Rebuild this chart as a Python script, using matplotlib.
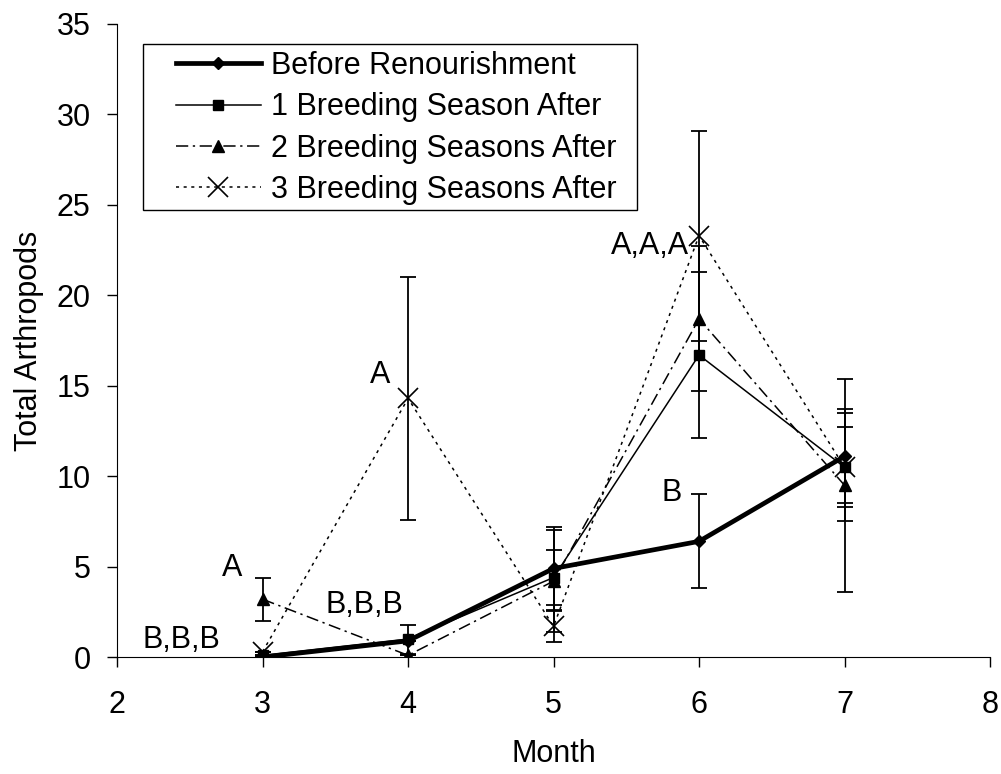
import matplotlib
matplotlib.use("Agg")
import matplotlib.pyplot as plt
from matplotlib.patches import Rectangle

plt.rcParams['font.family'] = ['Liberation Sans', 'DejaVu Sans']

months = [3, 4, 5, 6, 7]

before = [0.0, 0.9, 4.9, 6.4, 11.1]
before_err = [0.0, 0.0, 2.3, 2.6, 2.6]

one_after = [0.1, 1.0, 4.4, 16.7, 10.5]
one_err = [0.0, 0.8, 1.5, 4.6, 3.0]

two_after = [3.2, 0.1, 4.2, 18.7, 9.5]
two_err = [1.2, 0.0, 2.8, 4.0, 5.9]

three_after = [0.3, 14.3, 1.7, 23.3, 10.5]
three_err = [0.0, 6.7, 0.85, 5.8, 2.2]

labels = ["Before Renourishment", "1 Breeding Season After",
          "2 Breeding Seasons After", "3 Breeding Seasons After"]

annotations = [
    (2.44, 0.95, "B,B,B"),
    (2.79, 4.9, "A"),
    (3.70, 2.9, "B,B,B"),
    (3.81, 15.6, "A"),
    (5.66, 22.7, "A,A,A"),
    (5.81, 9.1, "B"),
]

fs = 22

fig = plt.figure(figsize=(10.01, 7.74), dpi=100)
ax = fig.add_axes([0.117, 0.151, 0.872, 0.818])

ebkw = dict(fmt='none', ecolor='black', elinewidth=1.3, capsize=6, capthick=1.3)
for vals, errs in [(before, before_err), (one_after, one_err),
                   (two_after, two_err), (three_after, three_err)]:
    ax.errorbar(months, vals, yerr=errs, **ebkw)

ax.plot(months, before, color='black', lw=3.4, marker='D', ms=6, label=labels[0])
ax.plot(months, one_after, color='black', lw=1.1, marker='s', ms=7, label=labels[1])
ax.plot(months, two_after, color='black', lw=1.1, marker='^', ms=8,
        linestyle=(0, (8, 3, 1.5, 3)), label=labels[2])
ax.plot(months, three_after, color='black', lw=1.1, marker='x', ms=15, mew=1.2,
        linestyle=(0, (2, 3)), label=labels[3])

for x, y, t in annotations:
    ax.text(x, y, t, fontsize=fs, ha='center', va='center')

ax.set_xlim(2, 8)
ax.set_ylim(0, 35)
ax.set_xticks([2, 3, 4, 5, 6, 7, 8])
ax.set_yticks(range(0, 36, 5))
ax.tick_params(axis='both', labelsize=fs, direction='out', length=7, width=1)
ax.tick_params(axis='x', pad=17)
ax.tick_params(axis='y', pad=12)
ax.spines['top'].set_visible(False)
ax.spines['right'].set_visible(False)
ax.set_xlabel("Month", fontsize=fs, labelpad=13)
ax.set_ylabel("Total Arthropods", fontsize=fs, labelpad=9)

# legend without its own frame, box drawn separately to match the padding
leg = ax.legend(loc='upper left', bbox_to_anchor=(0.1758, 0.934),
                bbox_transform=fig.transFigure, fontsize=fs, frameon=False,
                handlelength=2.78, borderpad=0, labelspacing=0.37,
                handletextpad=0.33, borderaxespad=0)
fig.patches.append(Rectangle((0.1429, 0.7287), 0.4935, 0.2145,
                             transform=fig.transFigure, fill=False,
                             edgecolor='black', linewidth=1.0))

fig.savefig("out.png", dpi=100)
